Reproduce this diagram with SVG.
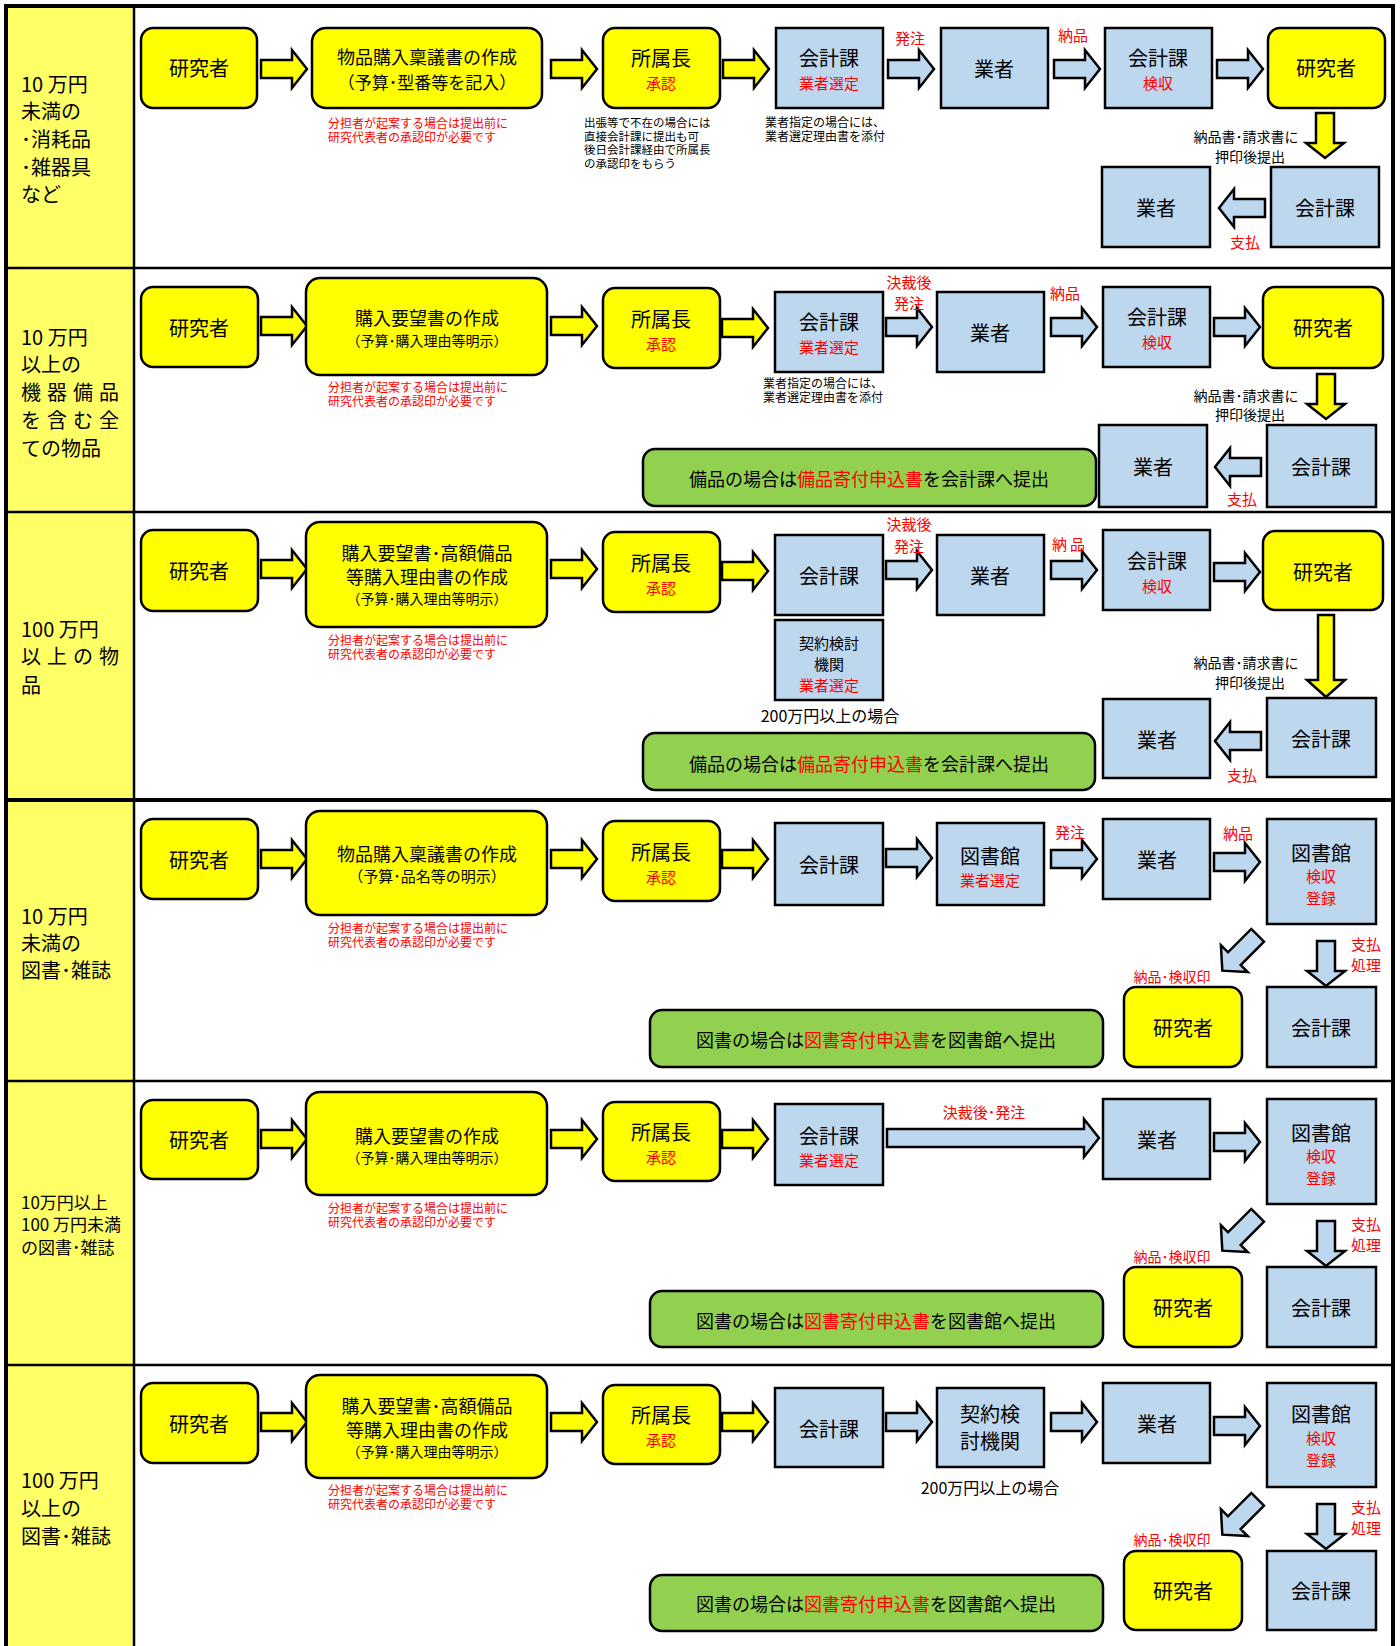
<svg xmlns="http://www.w3.org/2000/svg" width="1400" height="1646" viewBox="0 0 1400 1646">
<defs>
<style>
.t{font-family:"Noto Sans CJK JP","Noto Sans",sans-serif;fill:#000;dominant-baseline:central;text-anchor:middle}
.s{text-anchor:start}
.f20{font-size:20px}.f18{font-size:18px}.f17{font-size:17px}.f16{font-size:16px}.f15{font-size:15px}.f14{font-size:14px}.f12{font-size:12px}.f11{font-size:11.5px}
.r{fill:#FF0000}
.yb{fill:#FFFF00;stroke:#000;stroke-width:2.5}
.bb{fill:#BDD7EE;stroke:#000;stroke-width:2.5}
.gb{fill:#92D050;stroke:#000;stroke-width:2.5}
.ay{fill:#FFFF00;stroke:#000;stroke-width:2.5}
.ab{fill:#BDD7EE;stroke:#000;stroke-width:2.5}
.ln{stroke:#000;fill:none}
</style>
<path id="aR" d="M0,10H31V0L46,19L31,38V28H0Z"/>
<path id="aL" d="M46,10H15V0L0,19L15,38V28H46Z"/>
<path id="aD" d="M10,0H28V30H38L19,45L0,30H10Z"/>
<path id="aDL" d="M11,0H27V65H38L19,82L0,65H11Z"/>
<path id="aDg" d="M-25,-9H8V-19L25,0L8,19V9H-25Z"/>
</defs>
<rect x="0" y="0" width="1400" height="1646" fill="#fff"/>
<g id="frame">
<rect x="6" y="6" width="128" height="1645" fill="#FFFF66"/>
<line class="ln" x1="134" y1="6" x2="134" y2="1646" stroke-width="2.5"/>
<line class="ln" x1="4" y1="268" x2="1394" y2="268" stroke-width="2.5"/>
<line class="ln" x1="4" y1="512" x2="1394" y2="512" stroke-width="2.5"/>
<line class="ln" x1="4" y1="800" x2="1394" y2="800" stroke-width="4"/>
<line class="ln" x1="4" y1="1081" x2="1394" y2="1081" stroke-width="2.5"/>
<line class="ln" x1="4" y1="1365" x2="1394" y2="1365" stroke-width="2.5"/>
<rect class="ln" x="6" y="6" width="1387" height="1650" stroke-width="4"/>
</g>
<g id="categories">
<text class="t s f20" x="21" y="83">10 万円</text>
<text class="t s f20" x="21" y="110">未満の</text>
<text class="t s f20" x="21" y="138">･消耗品</text>
<text class="t s f20" x="21" y="166">･雑器具</text>
<text class="t s f20" x="21" y="193">など</text>
<text class="t s f20" x="21" y="336">10 万円</text>
<text class="t s f20" x="21" y="363">以上の</text>
<text class="t s f20" x="21" y="391" textLength="98" lengthAdjust="spacing">機器備品</text>
<text class="t s f20" x="21" y="419" textLength="98" lengthAdjust="spacing">を含む全</text>
<text class="t s f20" x="21" y="447">ての物品</text>
<text class="t s f20" x="21" y="628">100 万円</text>
<text class="t s f20" x="21" y="655" textLength="98" lengthAdjust="spacing">以上の物</text>
<text class="t s f20" x="21" y="684">品</text>
<text class="t s f20" x="21" y="915">10 万円</text>
<text class="t s f20" x="21" y="942">未満の</text>
<text class="t s f20" x="21" y="969">図書･雑誌</text>
<text class="t s f17" x="21" y="1201">10万円以上</text>
<text class="t s f17" x="21" y="1223">100 万円未満</text>
<text class="t s f17" x="21" y="1246">の図書･雑誌</text>
<text class="t s f20" x="21" y="1479">100 万円</text>
<text class="t s f20" x="21" y="1507">以上の</text>
<text class="t s f20" x="21" y="1535">図書･雑誌</text>
</g>
<g id="connectors">
<use href="#aR" class="ay" x="261" y="50"/>
<use href="#aR" class="ay" x="551" y="50"/>
<use href="#aR" class="ay" x="723" y="50"/>
<use href="#aR" class="ab" x="888" y="50"/>
<use href="#aR" class="ab" x="1054" y="50"/>
<use href="#aR" class="ab" x="1217" y="50"/>
<use href="#aD" class="ay" x="1306" y="113"/>
<use href="#aL" class="ab" x="1219" y="189"/>
<use href="#aR" class="ay" x="261" y="307"/>
<use href="#aR" class="ay" x="551" y="307"/>
<use href="#aR" class="ay" x="722" y="309"/>
<use href="#aR" class="ab" x="886" y="308"/>
<use href="#aR" class="ab" x="1051" y="308"/>
<use href="#aR" class="ab" x="1214" y="308"/>
<use href="#aD" class="ay" x="1307" y="374"/>
<use href="#aL" class="ab" x="1215" y="448"/>
<use href="#aR" class="ay" x="261" y="550"/>
<use href="#aR" class="ay" x="551" y="550"/>
<use href="#aR" class="ay" x="722" y="552"/>
<use href="#aR" class="ab" x="886" y="551"/>
<use href="#aR" class="ab" x="1051" y="551"/>
<use href="#aR" class="ab" x="1214" y="553"/>
<use href="#aDL" class="ay" x="1307" y="615"/>
<use href="#aL" class="ab" x="1215" y="722"/>
<use href="#aR" class="ay" x="261" y="840"/>
<use href="#aR" class="ay" x="551" y="840"/>
<use href="#aR" class="ay" x="722" y="840"/>
<use href="#aR" class="ab" x="886" y="839"/>
<use href="#aR" class="ab" x="1051" y="840"/>
<use href="#aR" class="ab" x="1214" y="843"/>
<use href="#aDg" class="ab" transform="translate(1240,953) rotate(135)"/>
<use href="#aD" class="ab" x="1307" y="941"/>
<use href="#aR" class="ay" x="261" y="1120"/>
<use href="#aR" class="ay" x="551" y="1120"/>
<use href="#aR" class="ay" x="722" y="1120"/>
<path class="ab" d="M887,1129H1084V1119L1099,1138L1084,1157V1147H887Z"/>
<use href="#aR" class="ab" x="1214" y="1123"/>
<use href="#aDg" class="ab" transform="translate(1240,1233) rotate(135)"/>
<use href="#aD" class="ab" x="1307" y="1221"/>
<use href="#aR" class="ay" x="261" y="1403"/>
<use href="#aR" class="ay" x="551" y="1403"/>
<use href="#aR" class="ay" x="722" y="1403"/>
<use href="#aR" class="ab" x="886" y="1403"/>
<use href="#aR" class="ab" x="1051" y="1403"/>
<use href="#aR" class="ab" x="1214" y="1407"/>
<use href="#aDg" class="ab" transform="translate(1240,1517) rotate(135)"/>
<use href="#aD" class="ab" x="1307" y="1504"/>
</g>
<g id="row1">
<g id="r1-researcher"><rect class="yb" x="141" y="28" width="116" height="80" rx="12"/><text class="t f20" x="199" y="67">研究者</text></g>
<g id="r1-ringi"><rect class="yb" x="312" y="28" width="230" height="80" rx="14"/><text class="t f18" x="427" y="56">物品購入稟議書の作成</text><text class="t f17" x="427" y="81">（予算･型番等を記入）</text></g>
<g id="r1-head"><rect class="yb" x="603" y="28" width="117" height="80" rx="12"/><text class="t f20" x="661" y="57">所属長</text><text class="t f15 r" x="661" y="82">承認</text></g>
<g id="r1-acct1"><rect class="bb" x="776" y="28" width="107" height="80"/><text class="t f20" x="829" y="57">会計課</text><text class="t f15 r" x="829" y="82">業者選定</text></g>
<g id="r1-vendor1"><rect class="bb" x="941" y="28" width="107" height="80"/><text class="t f20" x="994" y="68">業者</text></g>
<g id="r1-acct2"><rect class="bb" x="1105" y="28" width="107" height="80"/><text class="t f20" x="1158" y="57">会計課</text><text class="t f15 r" x="1158" y="82">検収</text></g>
<g id="r1-researcher2"><rect class="yb" x="1268" y="28" width="117" height="80" rx="12"/><text class="t f20" x="1326" y="67">研究者</text></g>
<g id="r1-vendor2"><rect class="bb" x="1102" y="167" width="108" height="80"/><text class="t f20" x="1156" y="207">業者</text></g>
<g id="r1-acct3"><rect class="bb" x="1271" y="167" width="108" height="80"/><text class="t f20" x="1325" y="207">会計課</text></g>
<g id="r1-labels">
<text class="t s f12 r" x="328" y="122">分担者が起案する場合は提出前に</text>
<text class="t s f12 r" x="328" y="136">研究代表者の承認印が必要です</text>
<text class="t s f11" x="584" y="122">出張等で不在の場合には</text>
<text class="t s f11" x="584" y="135.5">直接会計課に提出も可</text>
<text class="t s f11" x="584" y="149">後日会計課経由で所属長</text>
<text class="t s f11" x="584" y="162.5">の承認印をもらう</text>
<text class="t s f12" x="765" y="121">業者指定の場合には、</text>
<text class="t s f12" x="765" y="135">業者選定理由書を添付</text>
<text class="t f15 r" x="910" y="37">発注</text>
<text class="t f15 r" x="1073" y="34">納品</text>
<text class="t f14" x="1246" y="136">納品書･請求書に</text>
<text class="t f14" x="1250" y="156">押印後提出</text>
<text class="t f15 r" x="1245" y="241">支払</text>
</g>
</g>
<g id="row2">
<g id="r2-researcher"><rect class="yb" x="141" y="287" width="117" height="80" rx="12"/><text class="t f20" x="199" y="327">研究者</text></g>
<g id="r2-request"><rect class="yb" x="306" y="278" width="241" height="97" rx="14"/><text class="t f18" x="427" y="317">購入要望書の作成</text><text class="t f14" x="427" y="340">（予算･購入理由等明示）</text></g>
<g id="r2-head"><rect class="yb" x="603" y="288" width="117" height="80" rx="12"/><text class="t f20" x="661" y="318">所属長</text><text class="t f15 r" x="661" y="343">承認</text></g>
<g id="r2-acct1"><rect class="bb" x="775" y="292" width="108" height="80"/><text class="t f20" x="829" y="321">会計課</text><text class="t f15 r" x="829" y="346">業者選定</text></g>
<g id="r2-vendor1"><rect class="bb" x="937" y="292" width="107" height="80"/><text class="t f20" x="990" y="332">業者</text></g>
<g id="r2-acct2"><rect class="bb" x="1103" y="287" width="107" height="80"/><text class="t f20" x="1157" y="316">会計課</text><text class="t f15 r" x="1157" y="341">検収</text></g>
<g id="r2-researcher2"><rect class="yb" x="1263" y="287" width="120" height="81" rx="12"/><text class="t f20" x="1323" y="327">研究者</text></g>
<g id="r2-vendor2"><rect class="bb" x="1099" y="425" width="108" height="82"/><text class="t f20" x="1153" y="466">業者</text></g>
<g id="r2-acct3"><rect class="bb" x="1267" y="425" width="109" height="82"/><text class="t f20" x="1321" y="466">会計課</text></g>
<g id="r2-note"><rect class="gb" x="643" y="449" width="453" height="57" rx="12"/><text class="t f18" x="869" y="478">備品の場合は<tspan class="r">備品寄付申込書</tspan>を会計課へ提出</text></g>
<g id="r2-labels">
<text class="t s f12 r" x="328" y="386">分担者が起案する場合は提出前に</text>
<text class="t s f12 r" x="328" y="400">研究代表者の承認印が必要です</text>
<text class="t s f12" x="763" y="382">業者指定の場合には、</text>
<text class="t s f12" x="763" y="396">業者選定理由書を添付</text>
<text class="t f15 r" x="909" y="281">決裁後</text>
<text class="t f15 r" x="909" y="302">発注</text>
<text class="t f15 r" x="1065" y="292">納品</text>
<text class="t f14" x="1246" y="395">納品書･請求書に</text>
<text class="t f14" x="1250" y="414">押印後提出</text>
<text class="t f15 r" x="1242" y="498">支払</text>
</g>
</g>
<g id="row3">
<g id="r3-researcher"><rect class="yb" x="141" y="530" width="117" height="81" rx="12"/><text class="t f20" x="199" y="570">研究者</text></g>
<g id="r3-request"><rect class="yb" x="306" y="522" width="241" height="105" rx="14"/><text class="t f18" x="427" y="552">購入要望書･高額備品</text><text class="t f18" x="427" y="576">等購入理由書の作成</text><text class="t f14" x="427" y="598">（予算･購入理由等明示）</text></g>
<g id="r3-head"><rect class="yb" x="603" y="532" width="117" height="80" rx="12"/><text class="t f20" x="661" y="562">所属長</text><text class="t f15 r" x="661" y="587">承認</text></g>
<g id="r3-acct1"><rect class="bb" x="775" y="535" width="108" height="80"/><text class="t f20" x="829" y="575">会計課</text></g>
<g id="r3-contract"><rect class="bb" x="775" y="620" width="108" height="80"/><text class="t f15" x="829" y="642">契約検討</text><text class="t f15" x="829" y="663">機関</text><text class="t f15 r" x="829" y="684">業者選定</text></g>
<g id="r3-vendor1"><rect class="bb" x="937" y="535" width="107" height="80"/><text class="t f20" x="990" y="575">業者</text></g>
<g id="r3-acct2"><rect class="bb" x="1103" y="530" width="107" height="80"/><text class="t f20" x="1157" y="560">会計課</text><text class="t f15 r" x="1157" y="585">検収</text></g>
<g id="r3-researcher2"><rect class="yb" x="1263" y="531" width="120" height="79" rx="12"/><text class="t f20" x="1323" y="571">研究者</text></g>
<g id="r3-vendor2"><rect class="bb" x="1103" y="699" width="107" height="79"/><text class="t f20" x="1157" y="739">業者</text></g>
<g id="r3-acct3"><rect class="bb" x="1267" y="698" width="109" height="79"/><text class="t f20" x="1321" y="738">会計課</text></g>
<g id="r3-note"><rect class="gb" x="643" y="733" width="452" height="57" rx="12"/><text class="t f18" x="869" y="763">備品の場合は<tspan class="r">備品寄付申込書</tspan>を会計課へ提出</text></g>
<g id="r3-labels">
<text class="t s f12 r" x="328" y="639">分担者が起案する場合は提出前に</text>
<text class="t s f12 r" x="328" y="653">研究代表者の承認印が必要です</text>
<text class="t f16" x="830" y="715">200万円以上の場合</text>
<text class="t f15 r" x="909" y="523">決裁後</text>
<text class="t f15 r" x="909" y="545">発注</text>
<text class="t f15 r" x="1070" y="543" letter-spacing="3">納品</text>
<text class="t f14" x="1246" y="662">納品書･請求書に</text>
<text class="t f14" x="1250" y="682">押印後提出</text>
<text class="t f15 r" x="1242" y="774">支払</text>
</g>
</g>
<g id="row4">
<g id="r4-researcher"><rect class="yb" x="141" y="819" width="117" height="80" rx="12"/><text class="t f20" x="199" y="859">研究者</text></g>
<g id="r4-ringi"><rect class="yb" x="306" y="811" width="241" height="104" rx="14"/><text class="t f18" x="427" y="853">物品購入稟議書の作成</text><text class="t f15" x="427" y="875">（予算･品名等の明示）</text></g>
<g id="r4-head"><rect class="yb" x="603" y="821" width="117" height="80" rx="12"/><text class="t f20" x="661" y="851">所属長</text><text class="t f15 r" x="661" y="876">承認</text></g>
<g id="r4-acct1"><rect class="bb" x="775" y="823" width="108" height="82"/><text class="t f20" x="829" y="864">会計課</text></g>
<g id="r4-library1"><rect class="bb" x="937" y="823" width="107" height="82"/><text class="t f20" x="990" y="855">図書館</text><text class="t f15 r" x="990" y="879">業者選定</text></g>
<g id="r4-vendor"><rect class="bb" x="1103" y="819" width="107" height="80"/><text class="t f20" x="1157" y="859">業者</text></g>
<g id="r4-library2"><rect class="bb" x="1267" y="819" width="109" height="105"/><text class="t f20" x="1321" y="852">図書館</text><text class="t f15 r" x="1321" y="875">検収</text><text class="t f15 r" x="1321" y="897">登録</text></g>
<g id="r4-researcher2"><rect class="yb" x="1124" y="987" width="118" height="80" rx="12"/><text class="t f20" x="1183" y="1027">研究者</text></g>
<g id="r4-acct2"><rect class="bb" x="1267" y="987" width="109" height="80"/><text class="t f20" x="1321" y="1027">会計課</text></g>
<g id="r4-note"><rect class="gb" x="650" y="1010" width="453" height="57" rx="12"/><text class="t f18" x="876" y="1039">図書の場合は<tspan class="r">図書寄付申込書</tspan>を図書館へ提出</text></g>
<g id="r4-labels">
<text class="t s f12 r" x="328" y="927">分担者が起案する場合は提出前に</text>
<text class="t s f12 r" x="328" y="941">研究代表者の承認印が必要です</text>
<text class="t f15 r" x="1070" y="831">発注</text>
<text class="t f15 r" x="1238" y="832">納品</text>
<text class="t f14 r" x="1172" y="976">納品･検収印</text>
<text class="t f15 r" x="1366" y="943">支払</text>
<text class="t f15 r" x="1366" y="964">処理</text>
</g>
</g>
<g id="row5">
<g id="r5-researcher"><rect class="yb" x="141" y="1100" width="117" height="79" rx="12"/><text class="t f20" x="199" y="1139">研究者</text></g>
<g id="r5-request"><rect class="yb" x="306" y="1092" width="241" height="103" rx="14"/><text class="t f18" x="427" y="1135">購入要望書の作成</text><text class="t f14" x="427" y="1157">（予算･購入理由等明示）</text></g>
<g id="r5-head"><rect class="yb" x="603" y="1102" width="117" height="79" rx="12"/><text class="t f20" x="661" y="1131">所属長</text><text class="t f15 r" x="661" y="1156">承認</text></g>
<g id="r5-acct1"><rect class="bb" x="775" y="1104" width="108" height="81"/><text class="t f20" x="829" y="1135">会計課</text><text class="t f15 r" x="829" y="1159">業者選定</text></g>
<g id="r5-vendor"><rect class="bb" x="1103" y="1099" width="107" height="80"/><text class="t f20" x="1157" y="1139">業者</text></g>
<g id="r5-library"><rect class="bb" x="1267" y="1099" width="109" height="105"/><text class="t f20" x="1321" y="1132">図書館</text><text class="t f15 r" x="1321" y="1155">検収</text><text class="t f15 r" x="1321" y="1177">登録</text></g>
<g id="r5-researcher2"><rect class="yb" x="1124" y="1267" width="118" height="80" rx="12"/><text class="t f20" x="1183" y="1307">研究者</text></g>
<g id="r5-acct2"><rect class="bb" x="1267" y="1267" width="109" height="80"/><text class="t f20" x="1321" y="1307">会計課</text></g>
<g id="r5-note"><rect class="gb" x="650" y="1291" width="453" height="56" rx="12"/><text class="t f18" x="876" y="1320">図書の場合は<tspan class="r">図書寄付申込書</tspan>を図書館へ提出</text></g>
<g id="r5-labels">
<text class="t s f12 r" x="328" y="1207">分担者が起案する場合は提出前に</text>
<text class="t s f12 r" x="328" y="1221">研究代表者の承認印が必要です</text>
<text class="t f15 r" x="984" y="1111">決裁後･発注</text>
<text class="t f14 r" x="1172" y="1256">納品･検収印</text>
<text class="t f15 r" x="1366" y="1223">支払</text>
<text class="t f15 r" x="1366" y="1244">処理</text>
</g>
</g>
<g id="row6">
<g id="r6-researcher"><rect class="yb" x="141" y="1383" width="117" height="80" rx="12"/><text class="t f20" x="199" y="1423">研究者</text></g>
<g id="r6-request"><rect class="yb" x="306" y="1375" width="241" height="103" rx="14"/><text class="t f18" x="427" y="1405">購入要望書･高額備品</text><text class="t f18" x="427" y="1429">等購入理由書の作成</text><text class="t f14" x="427" y="1451">（予算･購入理由等明示）</text></g>
<g id="r6-head"><rect class="yb" x="603" y="1385" width="117" height="79" rx="12"/><text class="t f20" x="661" y="1414">所属長</text><text class="t f15 r" x="661" y="1439">承認</text></g>
<g id="r6-acct1"><rect class="bb" x="775" y="1388" width="108" height="79"/><text class="t f20" x="829" y="1428">会計課</text></g>
<g id="r6-contract"><rect class="bb" x="937" y="1388" width="107" height="79"/><text class="t f20" x="990" y="1413">契約検</text><text class="t f20" x="990" y="1440">討機関</text></g>
<g id="r6-vendor"><rect class="bb" x="1103" y="1383" width="107" height="80"/><text class="t f20" x="1157" y="1423">業者</text></g>
<g id="r6-library"><rect class="bb" x="1267" y="1383" width="109" height="104"/><text class="t f20" x="1321" y="1413">図書館</text><text class="t f15 r" x="1321" y="1437">検収</text><text class="t f15 r" x="1321" y="1459">登録</text></g>
<g id="r6-researcher2"><rect class="yb" x="1124" y="1551" width="118" height="79" rx="12"/><text class="t f20" x="1183" y="1590">研究者</text></g>
<g id="r6-acct2"><rect class="bb" x="1267" y="1551" width="109" height="79"/><text class="t f20" x="1321" y="1590">会計課</text></g>
<g id="r6-note"><rect class="gb" x="650" y="1575" width="453" height="56" rx="12"/><text class="t f18" x="876" y="1603">図書の場合は<tspan class="r">図書寄付申込書</tspan>を図書館へ提出</text></g>
<g id="r6-labels">
<text class="t s f12 r" x="328" y="1489">分担者が起案する場合は提出前に</text>
<text class="t s f12 r" x="328" y="1503">研究代表者の承認印が必要です</text>
<text class="t f16" x="990" y="1487">200万円以上の場合</text>
<text class="t f14 r" x="1172" y="1539">納品･検収印</text>
<text class="t f15 r" x="1366" y="1506">支払</text>
<text class="t f15 r" x="1366" y="1527">処理</text>
</g>
</g>
</svg>
